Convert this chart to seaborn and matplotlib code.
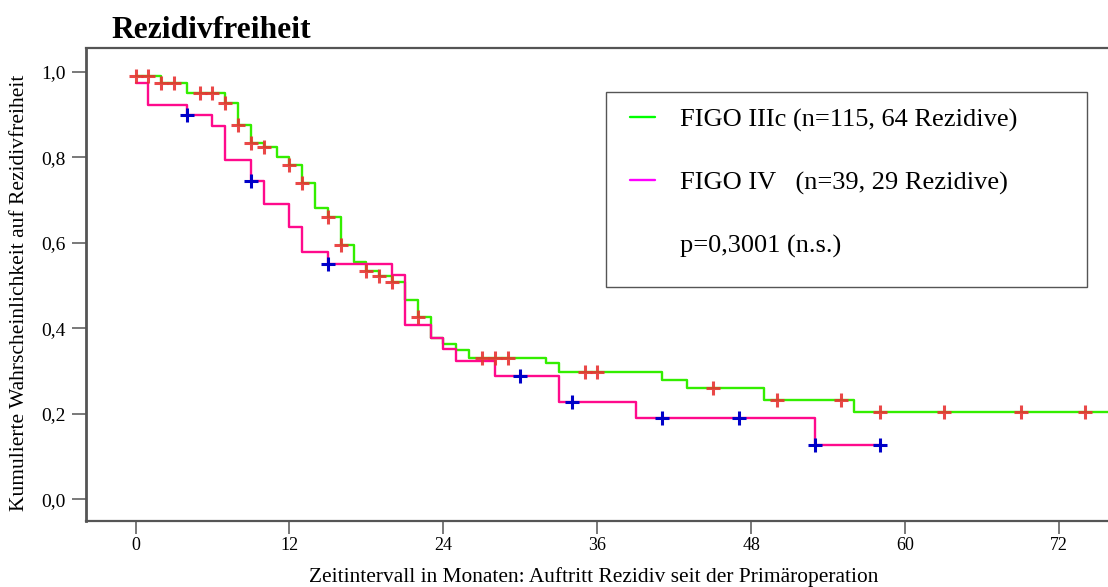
import numpy as np
import pandas as pd
import matplotlib
matplotlib.use("Agg")
import matplotlib.pyplot as plt
import seaborn as sns
from matplotlib.lines import Line2D
from matplotlib.patches import Rectangle

# Kaplan-Meier estimates: step times (months) and survival after each step
iiic_times = [0, 2, 4, 7, 8, 9, 10, 11, 12, 13, 14, 15, 16, 17, 18, 19, 20, 21, 22, 23,
              24, 25, 26, 32, 33, 41, 43, 49, 56, 76]
iiic_surv = [0.991, 0.974, 0.950, 0.928, 0.876, 0.833, 0.824, 0.802, 0.782, 0.740,
             0.683, 0.661, 0.595, 0.556, 0.534, 0.523, 0.509, 0.467, 0.426, 0.378,
             0.364, 0.350, 0.332, 0.319, 0.299, 0.280, 0.261, 0.233, 0.205, 0.205]
iiic_censored = [0, 1, 2, 3, 5, 6, 7, 8, 9, 10, 12, 13, 15, 16, 18, 19, 20, 22, 27, 28,
                 29, 35, 36, 45, 50, 55, 58, 63, 69, 74]

iv_times = [0, 1, 4, 6, 7, 9, 10, 12, 13, 15, 20, 21, 23, 24, 25, 28, 33, 39, 53, 58]
iv_surv = [0.974, 0.923, 0.899, 0.874, 0.795, 0.744, 0.692, 0.637, 0.580, 0.552,
           0.524, 0.409, 0.378, 0.351, 0.323, 0.290, 0.229, 0.191, 0.127, 0.127]
iv_censored = [4, 9, 15, 30, 34, 41, 47, 53, 58]

x_ticks = [0, 12, 24, 36, 48, 60, 72]
y_ticks = [0.0, 0.2, 0.4, 0.6, 0.8, 1.0]
y_ticklabels = ["0,0", "0,2", "0,4", "0,6", "0,8", "1,0"]

labels = ["FIGO IIIc (n=115, 64 Rezidive)",
          "FIGO IV   (n=39, 29 Rezidive)",
          "p=0,3001 (n.s.)"]

GREEN = "#33ee00"
PINK = "#ff0a8c"
RED = "#e83434"
BLUE = "#0000c8"
SPINE = "#555555"

sns.set_theme(style="white")
plt.rcParams["font.family"] = ["Liberation Serif", "DejaVu Serif"]
plt.rcParams["text.color"] = "black"
plt.rcParams["axes.labelcolor"] = "black"
plt.rcParams["xtick.color"] = "black"
plt.rcParams["ytick.color"] = "black"


def censor_levels(times, surv, cens):
    idx = np.searchsorted(times, cens, side="right") - 1
    return [surv[i] for i in idx]


fig = plt.figure(figsize=(11.08, 5.87), dpi=100)
ax = fig.add_axes([0.0776, 0.1116, 0.9224, 0.8058])

sns.lineplot(x=iiic_times, y=iiic_surv, drawstyle="steps-post", color=GREEN,
             linewidth=1.7, estimator=None, sort=False, ax=ax)
sns.lineplot(x=iv_times, y=iv_surv, drawstyle="steps-post", color=PINK,
             linewidth=1.7, estimator=None, sort=False, ax=ax)

sns.scatterplot(x=iiic_censored,
                y=censor_levels(iiic_times, iiic_surv, iiic_censored),
                marker="+", s=110, color=RED, linewidth=2.2, alpha=0.9,
                zorder=4, ax=ax)
sns.scatterplot(x=iv_censored,
                y=censor_levels(iv_times, iv_surv, iv_censored),
                marker="+", s=110, color=BLUE, linewidth=2.2,
                zorder=4, ax=ax)

ax.set_xlim(-3.86, 75.8)
ax.set_ylim(-0.0515, 1.055)
ax.set_xticks(x_ticks)
ax.set_xticklabels([str(t) for t in x_ticks], fontsize=13, color="black")
ax.set_yticks(y_ticks)
ax.set_yticklabels(y_ticklabels, fontsize=14, color="black")
ax.tick_params(axis="y", direction="out", length=10, width=1.1, color=SPINE,
               pad=4.5, left=True, labelcolor="black")
ax.tick_params(axis="x", direction="out", length=9, width=1.1, color=SPINE,
               pad=2.5, bottom=True, labelcolor="black")
ax.set_xlabel("")
ax.set_ylabel("")

for side in ("left", "bottom", "top"):
    ax.spines[side].set_visible(True)
    ax.spines[side].set_color(SPINE)
    ax.spines[side].set_linewidth(1.6)
ax.spines["left"].set_linewidth(2.0)
ax.spines["right"].set_visible(False)
ax.grid(False)

# Legend with its framed box
handles = [Line2D([], [], color="#00ff00", linewidth=1.7),
           Line2D([], [], color="#ff00ff", linewidth=1.7),
           Line2D([], [], color="none")]
leg = ax.legend(handles, labels, loc="upper left", bbox_to_anchor=(0.532, 0.875),
                frameon=False, fontsize=19, borderpad=0, handlelength=0.95,
                handletextpad=0.95, labelspacing=1.5, borderaxespad=0)
for txt in leg.get_texts():
    txt.set_color("black")
ax.add_patch(Rectangle((0.5085, 0.4964), 0.4705, 0.4123, transform=ax.transAxes,
                       fill=False, edgecolor=SPINE, linewidth=1.0, zorder=5))

fig.text(111.7 / 1108, 1 - 38.3 / 587, "Rezidivfreiheit", fontsize=22.7,
         fontweight="bold", ha="left", va="baseline", color="black")
fig.text(594 / 1108, 1 - 582 / 587,
         "Zeitintervall in Monaten: Auftritt Rezidiv seit der Primäroperation",
         fontsize=15.4, ha="center", va="baseline", color="black")
fig.text(20 / 1108, 1 - 292.5 / 587,
         "Kumulierte Wahrscheinlichkeit auf Rezidivfreiheit",
         fontsize=15.5, rotation=90, ha="center", va="center", color="black")

fig.savefig("out.png", dpi=100)
